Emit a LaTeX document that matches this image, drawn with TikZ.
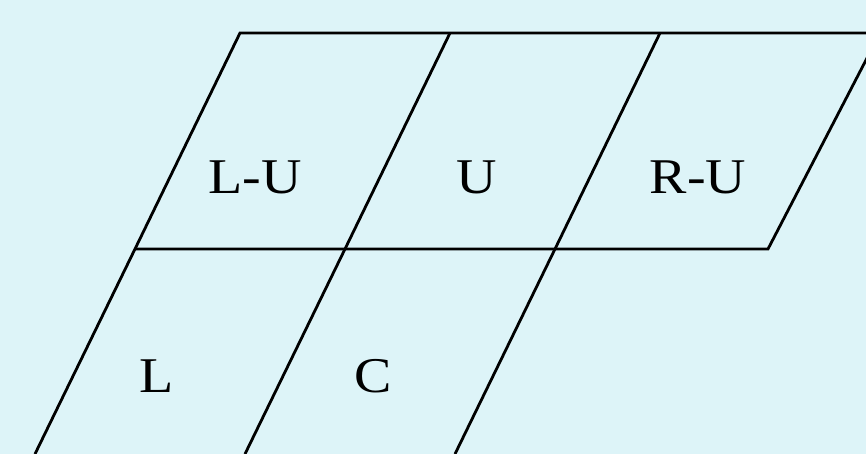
\documentclass[tikz,border=0pt]{standalone}
\usepackage{fontspec}
\setmainfont{Liberation Serif}
\usetikzlibrary{calc}
\begin{document}
\begin{tikzpicture}[x=1pt,y=-1pt,
  gridline/.style={line width=2.8pt,black,line cap=butt,line join=miter},
  lbl/.style={font=\fontsize{50}{50}\selectfont,inner sep=0pt,xscale=1.12}]
\fill[fill={rgb,255:red,221;green,244;blue,248}] (0,0) rectangle (866,454);
\useasboundingbox (0,0) rectangle (866,454);
\begin{scope}
\clip (0,0) rectangle (866,454);
\coordinate (a1) at (240,33);
\coordinate (a2) at (450,33);
\coordinate (a3) at (660,33);
\coordinate (a4) at (880,33);
\coordinate (b1) at (135,249);
\coordinate (b2) at (345,249);
\coordinate (b3) at (555,249);
\coordinate (b4) at (768,249);
\coordinate (c1) at (35,454);
\coordinate (c2) at (245,454);
\coordinate (c3) at (455,454);
\draw[gridline] (a4) -- (a1) -- (b1) -- (c1);
\draw[gridline] (b1) -- (b4) -- ($(b4)!1.2!(a4)$);
\draw[gridline] (a2) -- (b2) -- (c2);
\draw[gridline] (a3) -- (b3) -- (c3);
\end{scope}
\node[lbl] (lu) at (255,177) {L-U};
\node[lbl] (u) at (477,177) {U};
\node[lbl] (ru) at (698,177) {R-U};
\node[lbl] (l) at (157,376) {L};
\node[lbl] (c) at (373,376) {C};
\end{tikzpicture}
\end{document}
